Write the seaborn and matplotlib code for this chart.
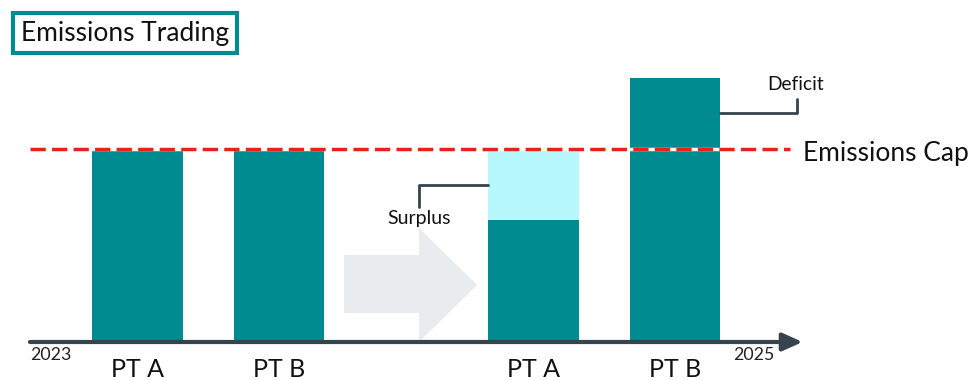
import matplotlib
matplotlib.use("Agg")
import matplotlib.pyplot as plt
from matplotlib.patches import Polygon
import seaborn as sns
import pandas as pd

# Data
labels = ["PT A", "PT B", "PT A", "PT B"]
positions = [0.0, 1.0, 2.8, 3.8]
emissions = [100, 100, 63, 137]
cap = 100
years = ["2023", "2025"]

TEAL = "#008B90"
LIGHT = "#B6F8FC"
GRAY = "#E9ECEF"
DARK = "#37444E"
RED = "#E8221B"

sns.set_theme(style="white")
plt.rcParams["font.family"] = ["Lato", "DejaVu Sans"]

fig = plt.figure(figsize=(9.7, 3.8), dpi=100)
ax = fig.add_axes([0, 0, 1, 1])

df = pd.DataFrame({"pos": positions, "emissions": emissions,
                   "allowance": [max(e, cap) for e in emissions]})

# Allowance layer (visible only where emissions fall below the cap)
sns.barplot(data=df, x="pos", y="allowance", native_scale=True, width=0.64,
            color=LIGHT, saturation=1, ax=ax, linewidth=0)
# Emissions layer
sns.barplot(data=df, x="pos", y="emissions", native_scale=True, width=0.64,
            color=TEAL, saturation=1, ax=ax, linewidth=0)

ax.set_xlim(-0.9717, 5.8834)
ax.set_ylim(-19.69, 177.2)
ax.axis("off")

x0, x1 = -0.76, 4.70
half = 0.32

# Shift arrow between the two periods
body_l, body_r, tip = 1.46, 1.99, 2.40
poly = Polygon([(body_l, 15), (body_r, 15), (body_r, 0), (tip, 29.5),
                (body_r, 59.1), (body_r, 45.1), (body_l, 45.1)],
               closed=True, facecolor=GRAY, edgecolor="none", zorder=0.5)
ax.add_patch(poly)

# Time axis
ax.annotate("", xy=(x1, 0), xytext=(x0, 0),
            arrowprops=dict(arrowstyle="-|>,head_length=1.0,head_width=0.45",
                            color=DARK, lw=3, shrinkA=0, shrinkB=0),
            zorder=5)
ax.text(x0, -6.5, years[0], fontsize=12.8, color="#222222", ha="left", va="center")
ax.text(4.21, -6.5, years[1], fontsize=12.8, color="#222222", ha="left", va="center")

for p, lab in zip(positions, labels):
    ax.text(p, -14.5, lab, fontsize=18, color="#111111", ha="center", va="center")

# Emissions cap
ax.plot([x0, 4.61], [cap, cap], color="white", lw=2.5, zorder=6)
ax.plot([x0, 4.61], [cap, cap], color=RED, lw=2.5, ls=(0, (4.4, 1.8)), zorder=7)
ax.text(4.705, cap - 2.5, "Emissions Cap", fontsize=19, color="#111111",
        ha="left", va="center")

# Deficit callout
dp = positions[3]
dmid = (emissions[3] + cap) / 2
ax.plot([dp + half, 4.661, 4.661], [dmid, dmid, dmid + 7.5],
        color=DARK, lw=2, zorder=6)
ax.text(4.65, 133.5, "Deficit", fontsize=13.8, color="#111111",
        ha="center", va="center")

# Surplus callout
sp = positions[2]
smid = (emissions[2] + cap) / 2
ax.plot([sp - half, 1.99, 1.99], [smid, smid, smid - 11.5],
        color=DARK, lw=2, zorder=6)
ax.text(1.99, 64.0, "Surplus", fontsize=14, color="#111111",
        ha="center", va="center")

# Title
fig.text(21 / 970, 1 - 33 / 380, "Emissions Trading", fontsize=19,
         color="#111111", ha="left", va="center",
         bbox=dict(boxstyle="square,pad=0.3", facecolor="white",
                   edgecolor=TEAL, linewidth=3))

fig.savefig("out.png", dpi=100)
